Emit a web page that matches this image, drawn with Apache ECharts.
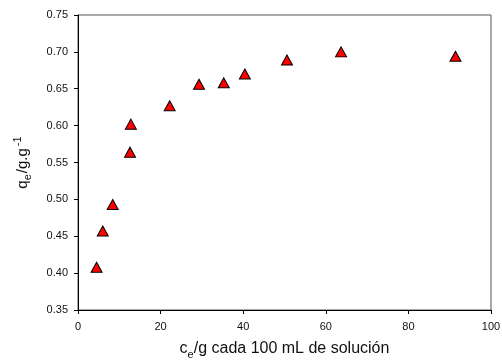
<!DOCTYPE html>
<html><head><meta charset="utf-8">
<script src="https://cdn.jsdelivr.net/npm/echarts@6/dist/echarts.min.js"></script>
<style>html,body{margin:0;padding:0;background:#fff}#c{width:502px;height:362px}</style>
</head><body><div id="c"></div>
<script>
const ceValues = [4.5, 6.0, 8.4, 12.6, 12.8, 22.2, 29.3, 35.3, 40.4, 50.6, 63.7, 91.4];
const qeValues = [0.408, 0.457, 0.493, 0.564, 0.602, 0.627, 0.656, 0.658, 0.670, 0.689, 0.700, 0.694];
const xTicks = [0, 20, 40, 60, 80, 100];
const yTicks = [0.35, 0.40, 0.45, 0.50, 0.55, 0.60, 0.65, 0.70, 0.75];

const points = ceValues.map((x, i) => [x, qeValues[i]]);
const font = 'Liberation Sans, Arial, sans-serif';
const chart = echarts.init(document.getElementById('c'));
chart.setOption({
  animation: false,
  backgroundColor: '#fff',
  grid: { left: 78, right: 11, top: 15, bottom: 52, show: true, borderColor: '#555', borderWidth: 1,
          containLabel: false, outerBoundsMode: 'none' },
  xAxis: {
    type: 'value', min: xTicks[0], max: xTicks[xTicks.length - 1], interval: 20,
    axisLine: { show: true, onZero: false, lineStyle: { color: '#000', width: 1 } },
    axisTick: { show: true, inside: false, length: 4, lineStyle: { color: '#000' } },
    axisLabel: { color: '#111', fontSize: 11, fontFamily: font, margin: 11 },
    splitLine: { show: false },
    name: '{n|c}{s|e}{n|/g cada 100 mL de solución}',
    nameLocation: 'middle', nameGap: 25,
    nameTextStyle: {
      fontFamily: font, color: '#111',
      rich: {
        n: { fontSize: 16, fontFamily: font, color: '#111', lineHeight: 20 },
        s: { fontSize: 11, fontFamily: font, color: '#111', lineHeight: 20, padding: [13,0,0,0] }
      }
    }
  },
  yAxis: {
    type: 'value', min: 0.35, max: 0.75, interval: 0.05,
    axisLine: { show: true, onZero: false, lineStyle: { color: '#000', width: 1 } },
    axisTick: { show: true, inside: false, length: 4, lineStyle: { color: '#000' } },
    axisLabel: { color: '#111', fontSize: 11, fontFamily: font, margin: 10, formatter: v => v.toFixed(2) },
    splitLine: { show: false },
    name: '{n|q}{s|e}{n|/g.g}{p|-1}',
    nameLocation: 'middle', nameGap: 45, nameRotate: 90,
    nameTextStyle: {
      fontFamily: font, color: '#111',
      rich: {
        n: { fontSize: 15, fontFamily: font, color: '#111', lineHeight: 20 },
        s: { fontSize: 11, fontFamily: font, color: '#111', lineHeight: 20, padding: [9,1,0,0] },
        p: { fontSize: 11, fontFamily: font, color: '#111', lineHeight: 20, padding: [0,0,10,2] }
      }
    }
  },
  series: [{
    type: 'scatter', data: points, symbol: 'triangle', symbolSize: [11, 10],
    itemStyle: { color: '#ff0000', opacity: 1, borderColor: '#000', borderWidth: 1 }
  }]
});
</script></body></html>
